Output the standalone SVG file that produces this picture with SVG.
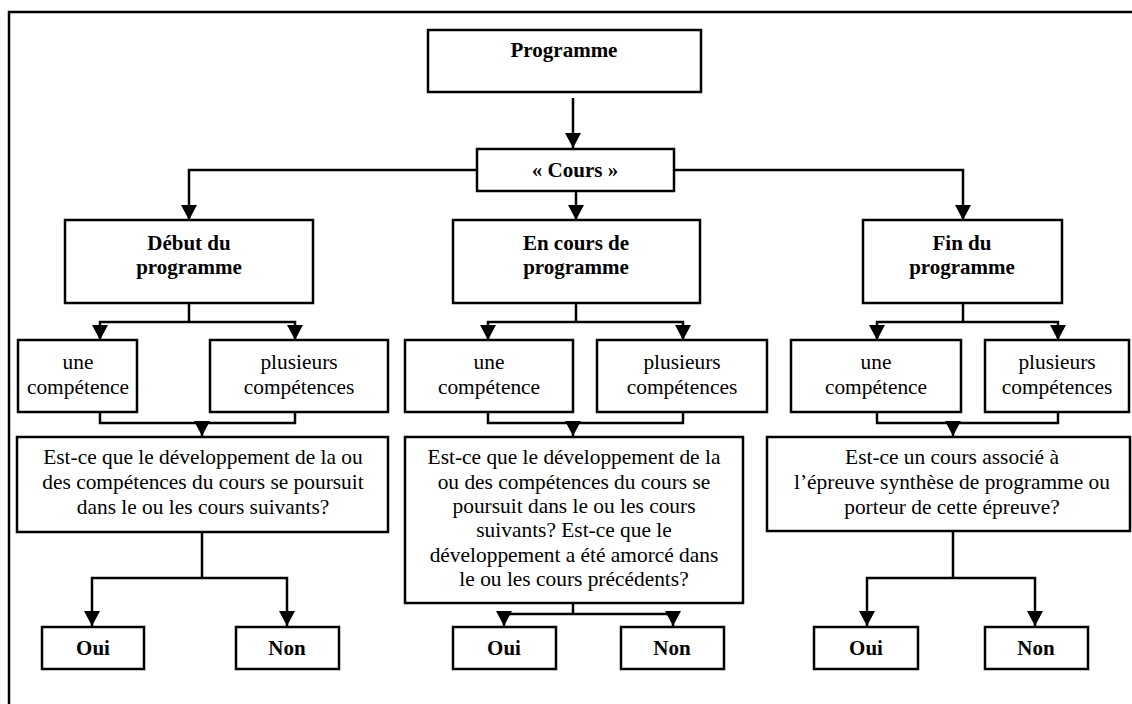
<svg xmlns="http://www.w3.org/2000/svg" width="1132" height="704" viewBox="0 0 1132 704">
<style>
.box{fill:#fff;stroke:#000;stroke-width:2.5}
.ln{fill:none;stroke:#000;stroke-width:2.5}
.b{font-family:"Liberation Serif","Times New Roman",serif;font-weight:bold;font-size:21px;fill:#000;text-anchor:middle}
.r{font-family:"Liberation Serif","Times New Roman",serif;font-size:21.4px;fill:#000;text-anchor:middle}
</style>
<defs>
<marker id="ah" markerUnits="userSpaceOnUse" markerWidth="18" markerHeight="18" viewBox="0 0 18 18" refX="16" refY="9" orient="auto">
<path d="M1,1 L16,9 L1,17 Z" fill="#000"/>
</marker>
</defs>
<rect width="1132" height="704" fill="#fff"/>
<path class="ln" d="M9,704 V12 H1132"/>
<g id="connectors">
<line class="ln" x1="573" y1="98" x2="573" y2="148" marker-end="url(#ah)"/>
<path class="ln" d="M477,170 H189 V220" marker-end="url(#ah)"/>
<path class="ln" d="M674,170 H963 V220" marker-end="url(#ah)"/>
<line class="ln" x1="576" y1="191" x2="576" y2="220" marker-end="url(#ah)"/>
<line class="ln" x1="189" y1="303" x2="189" y2="322"/>
<path class="ln" d="M189,322 H100 V340" marker-end="url(#ah)"/>
<path class="ln" d="M189,322 H295 V340" marker-end="url(#ah)"/>
<line class="ln" x1="576" y1="303" x2="576" y2="322"/>
<path class="ln" d="M576,322 H488 V340" marker-end="url(#ah)"/>
<path class="ln" d="M576,322 H683 V340" marker-end="url(#ah)"/>
<line class="ln" x1="963" y1="303" x2="963" y2="322"/>
<path class="ln" d="M963,322 H877 V340" marker-end="url(#ah)"/>
<path class="ln" d="M963,322 H1058 V340" marker-end="url(#ah)"/>
<path class="ln" d="M100,412 V423 H295 V412"/>
<line class="ln" x1="202" y1="423" x2="202" y2="436" marker-end="url(#ah)"/>
<path class="ln" d="M488,412 V423 H683 V412"/>
<line class="ln" x1="573" y1="423" x2="573" y2="436" marker-end="url(#ah)"/>
<path class="ln" d="M877,412 V423 H1058 V412"/>
<line class="ln" x1="953" y1="423" x2="953" y2="436" marker-end="url(#ah)"/>
<line class="ln" x1="202" y1="532" x2="202" y2="578"/>
<path class="ln" d="M202,578 H92 V626" marker-end="url(#ah)"/>
<path class="ln" d="M202,578 H287 V626" marker-end="url(#ah)"/>
<line class="ln" x1="573" y1="603" x2="573" y2="614"/>
<path class="ln" d="M573,614 H504 V626" marker-end="url(#ah)"/>
<path class="ln" d="M573,614 H673 V626" marker-end="url(#ah)"/>
<line class="ln" x1="953" y1="531" x2="953" y2="578"/>
<path class="ln" d="M953,578 H867 V626" marker-end="url(#ah)"/>
<path class="ln" d="M953,578 H1035 V626" marker-end="url(#ah)"/>
</g>
<g id="programme"><rect class="box" x="428" y="30" width="273" height="62"/><text class="b" x="564" y="57">Programme</text></g>
<g id="cours"><rect class="box" x="477" y="149" width="197" height="42"/><text class="b" x="575" y="177">« Cours »</text></g>
<g id="debut"><rect class="box" x="65" y="220" width="248" height="83"/><text class="b" x="189" y="250">Début du</text><text class="b" x="189" y="274">programme</text></g>
<g id="encours"><rect class="box" x="453" y="220" width="247" height="83"/><text class="b" x="576" y="250">En cours de</text><text class="b" x="576" y="274">programme</text></g>
<g id="fin"><rect class="box" x="863" y="220" width="199" height="83"/><text class="b" x="962" y="250">Fin du</text><text class="b" x="962" y="274">programme</text></g>
<g id="une1"><rect class="box" x="18" y="340" width="119" height="72"/><text class="r" x="78" y="369">une</text><text class="r" x="78" y="394">compétence</text></g>
<g id="plus1"><rect class="box" x="210" y="340" width="178" height="72"/><text class="r" x="299" y="369">plusieurs</text><text class="r" x="299" y="394">compétences</text></g>
<g id="une2"><rect class="box" x="405" y="340" width="168" height="72"/><text class="r" x="489" y="369">une</text><text class="r" x="489" y="394">compétence</text></g>
<g id="plus2"><rect class="box" x="597" y="340" width="170" height="72"/><text class="r" x="682" y="369">plusieurs</text><text class="r" x="682" y="394">compétences</text></g>
<g id="une3"><rect class="box" x="791" y="340" width="170" height="72"/><text class="r" x="876" y="369">une</text><text class="r" x="876" y="394">compétence</text></g>
<g id="plus3"><rect class="box" x="985" y="340" width="144" height="72"/><text class="r" x="1057" y="369">plusieurs</text><text class="r" x="1057" y="394">compétences</text></g>
<g id="q1"><rect class="box" x="17" y="437" width="371" height="95"/>
<text class="r" x="203" y="464">Est-ce que le développement de la ou</text>
<text class="r" x="203" y="489">des compétences du cours se poursuit</text>
<text class="r" x="203" y="514">dans le ou les cours suivants?</text></g>
<g id="q2"><rect class="box" x="405" y="437" width="338" height="166"/>
<text class="r" x="574" y="464">Est-ce que le développement de la</text>
<text class="r" x="574" y="489">ou des compétences du cours se</text>
<text class="r" x="574" y="513">poursuit dans le ou les cours</text>
<text class="r" x="574" y="537">suivants? Est-ce que le</text>
<text class="r" x="574" y="562">développement a été amorcé dans</text>
<text class="r" x="574" y="586">le ou les cours précédents?</text></g>
<g id="q3"><rect class="box" x="767" y="437" width="363" height="94"/>
<text class="r" x="952" y="464">Est-ce un cours associé à</text>
<text class="r" x="952" y="489">l’épreuve synthèse de programme ou</text>
<text class="r" x="952" y="514">porteur de cette épreuve?</text></g>
<g id="oui1"><rect class="box" x="42" y="627" width="102" height="42"/><text class="b" x="93" y="655">Oui</text></g>
<g id="non1"><rect class="box" x="236" y="627" width="103" height="42"/><text class="b" x="287" y="655">Non</text></g>
<g id="oui2"><rect class="box" x="453" y="627" width="103" height="42"/><text class="b" x="504" y="655">Oui</text></g>
<g id="non2"><rect class="box" x="621" y="627" width="103" height="42"/><text class="b" x="672" y="655">Non</text></g>
<g id="oui3"><rect class="box" x="814" y="627" width="104" height="42"/><text class="b" x="866" y="655">Oui</text></g>
<g id="non3"><rect class="box" x="985" y="627" width="103" height="42"/><text class="b" x="1036" y="655">Non</text></g>
</svg>
